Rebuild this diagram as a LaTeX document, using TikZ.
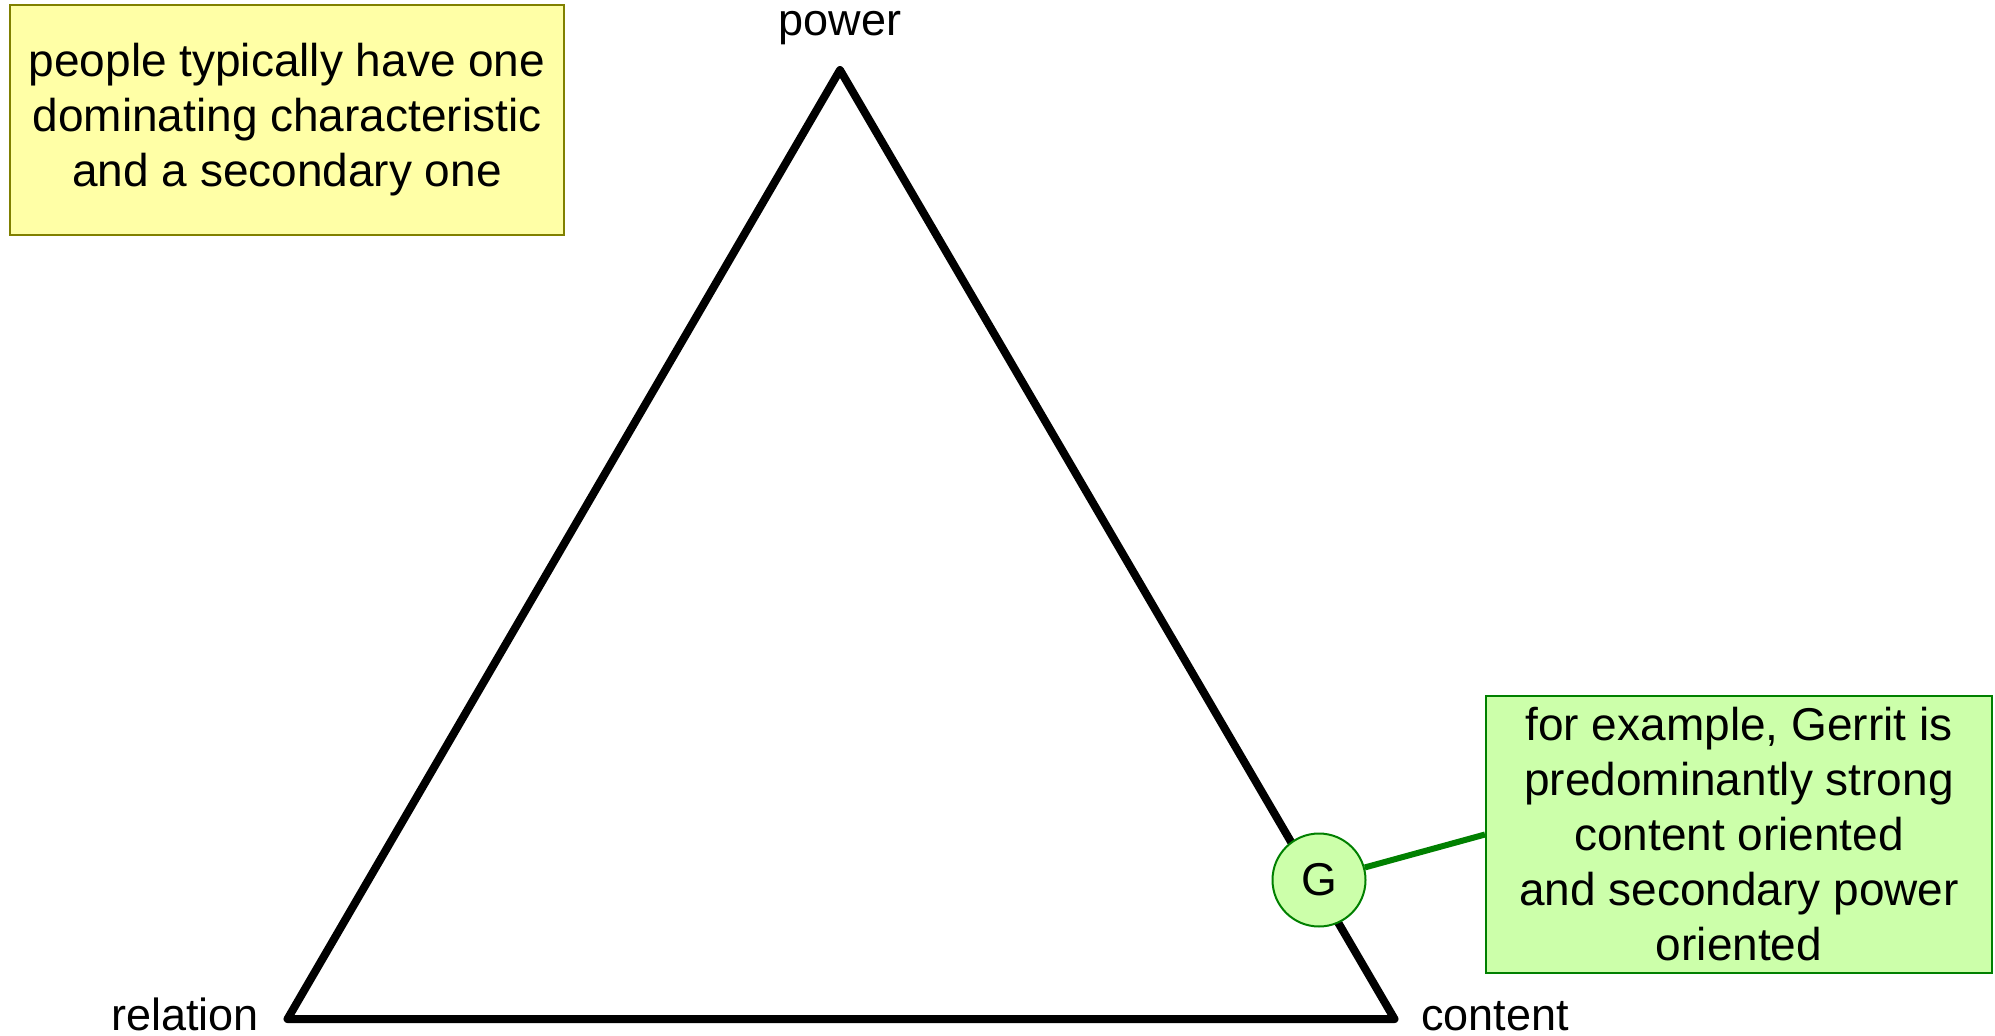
\documentclass[tikz,border=0pt]{standalone}
\usepackage{fontspec}
\setmainfont{Liberation Sans}
\definecolor{yfill}{HTML}{FFFFA6}
\definecolor{ydraw}{HTML}{808000}
\definecolor{gfill}{HTML}{CCFFAA}
\definecolor{gdraw}{HTML}{008000}
\tikzset{
  notebox/.style={draw, line width=2pt, inner sep=0pt, align=center, font=\fontsize{46}{55}\selectfont},
  vlabel/.style={inner sep=0pt, font=\fontsize{45}{54}\selectfont},
  tri/.style={line width=8pt, line join=round},
}
\begin{document}
\begin{tikzpicture}[x=1pt,y=-1pt]
\useasboundingbox (0,0) rectangle (1995,1036);
\coordinate (P) at (840,70);
\coordinate (R) at (287.5,1019);
\coordinate (C) at (1394.5,1019);
\draw[tri] (P) -- (R) -- (C) -- cycle;
\node[vlabel, anchor=base] (lp) at (840,35) {power};
\node[vlabel, anchor=base east] (lr) at (259,1030) {relation};
\node[vlabel, anchor=base west] (lc) at (1421,1030) {content};
\node[notebox, fill=yfill, draw=ydraw, minimum width=554pt, minimum height=230pt] (ybox) at (287,120)
  {people typically have one\\dominating characteristic\\and a secondary one};
\node[notebox, fill=gfill, draw=gdraw, minimum width=506pt, minimum height=277pt] (gbox) at (1739,834.5)
  {for example, Gerrit is\\predominantly strong\\content oriented\\and secondary power\\oriented};
\node[circle, draw=gdraw, fill=gfill, line width=2pt, minimum size=93pt, inner sep=0pt, font=\fontsize{46}{55}\selectfont] (G) at (1319,880) {G};
\draw[gdraw, line width=6pt] (G) -- (gbox.west);
\end{tikzpicture}
\end{document}
